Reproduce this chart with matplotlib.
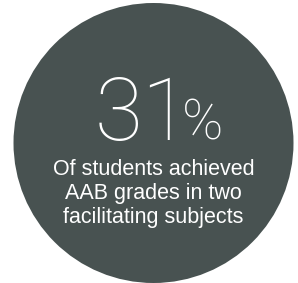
import matplotlib
matplotlib.use("Agg")
import matplotlib.pyplot as plt
from matplotlib.patches import Circle

value = "31"
unit = "%"
caption_lines = ["Of students achieved", "AAB grades in two", "facilitating subjects"]

W, H = 298, 283
fig = plt.figure(figsize=(W / 100, H / 100), dpi=100)
ax = fig.add_axes([0, 0, 1, 1])
ax.set_xlim(0, W)
ax.set_ylim(H, 0)
ax.axis("off")

ax.add_patch(Circle((153.5, 143), 140, facecolor="#485251", edgecolor="none"))

ax.text(95, 140, value, fontsize=63, family="Roboto", fontweight=100,
        color="white", ha="left", va="baseline")
ax.text(182, 140, unit, fontsize=40, family="Roboto", fontweight=100,
        color="white", ha="left", va="baseline")

for i, line in enumerate(caption_lines):
    ax.text(153.5, 175 + i * 24, line, fontsize=15.5, family="Liberation Sans",
            color="white", ha="center", va="baseline")

fig.savefig("out.png", dpi=100)
